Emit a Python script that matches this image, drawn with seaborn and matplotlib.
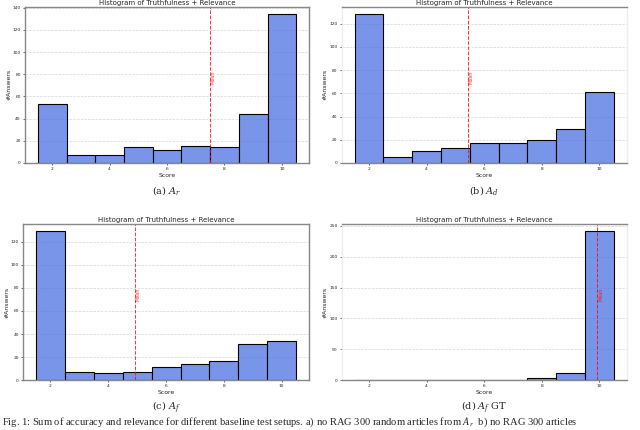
import seaborn as sns
import matplotlib.pyplot as plt
import numpy as np
from matplotlib.ticker import MultipleLocator
import matplotlib.transforms as mtransforms

# score values (sum of truthfulness + relevance) and answer counts per setup
scores = [2, 3, 4, 5, 6, 7, 8, 9, 10]
counts_ar = [53, 7, 7, 14, 12, 15, 14, 44, 134]
counts_ad = [128, 5, 10, 13, 17, 17, 20, 29, 61]
counts_af = [129, 7, 6, 7, 11, 14, 17, 31, 34]
counts_af_gt = [0, 0, 0, 0, 0, 0, 3, 12, 241]

captions = ["(a) $A_r$", "(b) $A_d$", "(c) $A_f$", "(d) $A_f$ GT"]
fig_caption = ("Fig. 1: Sum of accuracy and relevance for different baseline test setups. "
               "a) no RAG 300 random articles from $A_r$  b) no RAG 300 articles")

sns.set_style("white")
plt.rcParams['font.family'] = ['DejaVu Sans']

fig = plt.figure(figsize=(6.4, 4.3), dpi=100)

# axes rectangles in figure fractions
rects = [
    [0.039, 0.621, 0.444, 0.363],
    [0.534, 0.621, 0.445, 0.363],
    [0.036, 0.116, 0.447, 0.363],
    [0.534, 0.116, 0.445, 0.363],
]
all_counts = [counts_ar, counts_ad, counts_af, counts_af_gt]
y_steps = [20, 20, 20, 50]
side_spines = [True, False, True, False]

for rect, counts, step, caption, sides in zip(rects, all_counts, y_steps, captions, side_spines):
    ax = fig.add_axes(rect)
    sns.histplot(x=scores, weights=counts, discrete=True, color="royalblue",
                 alpha=0.7, edgecolor="black", linewidth=0.8, ax=ax)

    mean = np.average(scores, weights=counts)
    ax.axvline(mean, color="red", linestyle="--", linewidth=0.7, alpha=0.8)
    trans = mtransforms.blended_transform_factory(ax.transData, ax.transAxes)
    ax.text(mean + 0.03, 0.55, "Mean", rotation=90, color="red", fontsize=3.5,
            ha="left", va="center", transform=trans, alpha=0.8)

    ax.set_title("Histogram of Truthfulness + Relevance", fontsize=5, pad=1.5)
    ax.set_xlabel("Score", fontsize=4.4, labelpad=1)
    ax.set_ylabel("#Answers", fontsize=4.4, labelpad=1)
    ax.xaxis.set_major_locator(MultipleLocator(2))
    ax.yaxis.set_major_locator(MultipleLocator(step))
    ax.tick_params(labelsize=3.2, length=1.5, width=0.5, pad=1.5, left=True, bottom=True)
    ax.grid(axis="y", linestyle="--", color="#cccccc", linewidth=0.5, alpha=0.8)
    ax.set_axisbelow(True)
    for name, sp in ax.spines.items():
        sp.set_color("#888888")
        sp.set_linewidth(1.0)
    if not sides:
        ax.spines["left"].set_color("#eeeeee")
        ax.spines["right"].set_color("#eeeeee")

    pos = ax.get_position()
    fig.text(pos.x0 + pos.width / 2, pos.y0 - 0.064, caption, ha="center", va="center",
             fontsize=7, family=["DejaVu Serif"], math_fontfamily="dejavuserif")

fig.text(0.003, 0.003, fig_caption, ha="left", va="bottom", fontsize=7.6,
         family=["Liberation Serif"], math_fontfamily="stix")

fig.savefig("out.png", dpi=100)
